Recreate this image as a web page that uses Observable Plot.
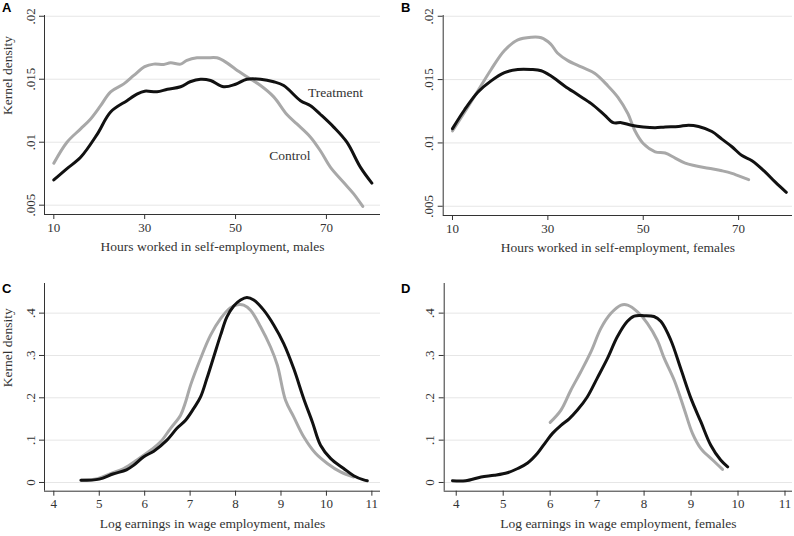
<!DOCTYPE html>
<html>
<head>
<meta charset="utf-8">
<script src="https://cdn.jsdelivr.net/npm/d3@7"></script>
<script src="https://cdn.jsdelivr.net/npm/@observablehq/plot@0.6"></script>
<style>
  html, body { margin: 0; padding: 0; background: #fff; }
  #grid { position: relative; width: 794px; height: 536px; }
  .panel { position: absolute; }
  .panel svg { display: block; }
  .letter { position: absolute; font: bold 13px "Liberation Sans", Arial, sans-serif; color: #000; }
</style>
</head>
<body>
<div id="grid"></div>
<script>
// ---- Panel A: hours, males ----
const aTreatHours = [10, 12.9, 15.9, 19.5, 22.5, 26.1, 28.4, 30, 32.7, 35, 37.9, 40, 42.3, 44.5, 47.4, 50, 52.5, 55.5, 58.4, 60.6, 64.3, 66.5, 68.7, 71.6, 74.5, 77.5, 80];
const aTreatDens  = [0.0070, 0.0079, 0.0088, 0.0106, 0.0124, 0.0133, 0.01384, 0.01405, 0.0140, 0.0142, 0.0144, 0.0148, 0.0150, 0.0149, 0.0144, 0.0146, 0.0150, 0.0150, 0.0148, 0.0145, 0.0133, 0.0129, 0.0122, 0.0112, 0.0100, 0.0080, 0.00675];
const aCtrlHours  = [10, 12.9, 15.9, 18.1, 20.3, 22.5, 25.4, 27.6, 30, 32, 34.2, 35.7, 37.9, 39.3, 41.5, 43.7, 45.9, 48.1, 50, 52.5, 55.5, 58.4, 61.3, 63.5, 66.5, 68.7, 70.9, 73.8, 76, 78];
const aCtrlDens   = [0.00833, 0.0100, 0.01106, 0.01185, 0.0129, 0.0140, 0.01463, 0.0153, 0.0160, 0.0162, 0.01617, 0.0163, 0.0162, 0.0165, 0.0167, 0.0167, 0.0167, 0.0163, 0.0158, 0.0152, 0.0145, 0.0136, 0.0122, 0.01145, 0.0104, 0.0093, 0.0080, 0.0068, 0.0059, 0.0049];

// ---- Panel B: hours, females ----
const bTreatHours = [10, 12.5, 15.3, 18.1, 20.9, 23.7, 26.5, 28.6, 30.6, 33.5, 36.3, 39.1, 41.9, 43.7, 45.4, 47.5, 50, 52.5, 54.6, 57.4, 59.5, 61.6, 64.4, 66.5, 68.6, 70.7, 72.8, 75.6, 77.7, 80];
const bTreatDens  = [0.01113, 0.0126, 0.0140, 0.0149, 0.01555, 0.0158, 0.0158, 0.0157, 0.0153, 0.0145, 0.0138, 0.0131, 0.0122, 0.0116, 0.0116, 0.0114, 0.01126, 0.0112, 0.01126, 0.0113, 0.0114, 0.0113, 0.0109, 0.0103, 0.0097, 0.0090, 0.0086, 0.0077, 0.0069, 0.0061];
const bCtrlHours  = [10, 12.5, 15.3, 18.1, 20.9, 23.7, 26.5, 28.6, 30.6, 32, 34.2, 37, 39.8, 42.6, 44.7, 46.8, 48.2, 50, 52.5, 54.6, 56.7, 58.8, 60.9, 63.7, 66.5, 68.6, 71.4, 72.1];
const bCtrlDens   = [0.01095, 0.0124, 0.0141, 0.0158, 0.0173, 0.01813, 0.01834, 0.0183, 0.0178, 0.0171, 0.0165, 0.0160, 0.0155, 0.0145, 0.0136, 0.0123, 0.0110, 0.00995, 0.0093, 0.0092, 0.0088, 0.0084, 0.0082, 0.0080, 0.0078, 0.0076, 0.0072, 0.0071];

// ---- Panel C: log earnings, males ----
const cTreatEarn = [4.6, 5.0, 5.3, 5.6, 5.76, 5.98, 6.2, 6.49, 6.71, 6.9, 7.08, 7.23, 7.37, 7.52, 7.67, 7.81, 7.96, 8.11, 8.25, 8.4, 8.62, 8.84, 9.06, 9.28, 9.5, 9.69, 9.87, 10.09, 10.38, 10.6, 10.82, 10.9];
const cTreatDens = [0.005, 0.008, 0.02, 0.03, 0.041, 0.061, 0.074, 0.100, 0.128, 0.147, 0.175, 0.202, 0.246, 0.297, 0.348, 0.391, 0.417, 0.431, 0.437, 0.431, 0.407, 0.372, 0.328, 0.269, 0.198, 0.143, 0.088, 0.057, 0.033, 0.016, 0.006, 0.004];
const cCtrlEarn  = [4.59, 4.96, 5.25, 5.54, 5.83, 6.13, 6.35, 6.57, 6.79, 6.9, 7.01, 7.23, 7.45, 7.67, 7.89, 8.04, 8.18, 8.33, 8.55, 8.77, 8.92, 9.1, 9.28, 9.5, 9.76, 10.02, 10.31, 10.6];
const cCtrlDens  = [0.0055, 0.009, 0.021, 0.033, 0.053, 0.076, 0.096, 0.128, 0.159, 0.19, 0.230, 0.293, 0.348, 0.387, 0.413, 0.420, 0.419, 0.407, 0.368, 0.320, 0.277, 0.194, 0.155, 0.108, 0.069, 0.045, 0.025, 0.013];

// ---- Panel D: log earnings, females ----
const dTreatEarn = [3.92, 4.2, 4.53, 4.81, 5.09, 5.31, 5.52, 5.73, 5.91, 6.05, 6.23, 6.41, 6.58, 6.79, 7.0, 7.22, 7.43, 7.64, 7.79, 8.0, 8.21, 8.36, 8.57, 8.78, 9.0, 9.21, 9.42, 9.63, 9.78];
const dTreatDens = [0.004, 0.004, 0.013, 0.017, 0.023, 0.033, 0.046, 0.069, 0.096, 0.116, 0.135, 0.151, 0.171, 0.202, 0.246, 0.293, 0.344, 0.380, 0.393, 0.394, 0.392, 0.380, 0.336, 0.269, 0.198, 0.143, 0.088, 0.053, 0.037];
const dCtrlEarn  = [6.0, 6.23, 6.44, 6.65, 6.87, 7.08, 7.29, 7.51, 7.65, 7.86, 8.07, 8.28, 8.43, 8.64, 8.85, 9.03, 9.21, 9.46, 9.67];
const dCtrlDens  = [0.142, 0.171, 0.218, 0.261, 0.309, 0.364, 0.399, 0.419, 0.419, 0.403, 0.376, 0.336, 0.293, 0.242, 0.175, 0.116, 0.080, 0.053, 0.031];

// ---- ticks & labels ----
const hoursTicks = [10, 30, 50, 70];
const hoursDensTicks = [0.005, 0.01, 0.015, 0.02];
const earnTicks = [4, 5, 6, 7, 8, 9, 10, 11];
const earnDensTicks = [0, 0.1, 0.2, 0.3, 0.4];
const panelLetters = ["A", "B", "C", "D"];
const xTitles = [
  "Hours worked in self-employment, males",
  "Hours worked in self-employment, females",
  "Log earnings in wage employment, males",
  "Log earnings in wage employment, females"
];
const yTitle = "Kernel density";
const seriesNames = ["Treatment", "Control"];
const annotation = [
  {x: 72.0, y: 0.01392, text: "Treatment"},
  {x: 61.97, y: 0.00892, text: "Control"}
];

const toRows = (xs, ys, s) => xs.map((x, i) => ({x, y: ys[i], s}));
const fmt = d => String(d).replace(/^0\./, ".");
const serif = "'Liberation Serif', 'DejaVu Serif', serif";

const panels = [
  {left: 0, top: 0, W: 397, H: 268, mL: 44, mR: 17, mT: 15, mB: 54,
   xd: [7.95, 81.9], yd: [0.00426, 0.02006], xt: hoursTicks, yt: hoursDensTicks,
   data: [toRows(aTreatHours, aTreatDens, seriesNames[0]), toRows(aCtrlHours, aCtrlDens, seriesNames[1])],
   yTitle: true, notes: annotation, tOff: 36},
  {left: 397, top: 0, W: 397, H: 268, mL: 45.7, mR: 2, mT: 15, mB: 53,
   xd: [8.05, 81.3], yd: [0.00427, 0.02006], xt: hoursTicks, yt: hoursDensTicks,
   data: [toRows(bTreatHours, bTreatDens, seriesNames[0]), toRows(bCtrlHours, bCtrlDens, seriesNames[1])],
   yTitle: false, notes: [], tOff: 36},
  {left: 0, top: 268, W: 397, H: 268, mL: 44, mR: 17, mT: 15, mB: 45.3,
   xd: [3.795, 11.19], yd: [-0.0206, 0.470], xt: earnTicks, yt: earnDensTicks,
   data: [toRows(cTreatEarn, cTreatDens, seriesNames[0]), toRows(cCtrlEarn, cCtrlDens, seriesNames[1])],
   yTitle: true, notes: [], tOff: 36.6},
  {left: 397, top: 268, W: 397, H: 268, mL: 46.7, mR: 2, mT: 15, mB: 45.3,
   xd: [3.744, 11.16], yd: [-0.0206, 0.470], xt: earnTicks, yt: earnDensTicks,
   data: [toRows(dTreatEarn, dTreatDens, seriesNames[0]), toRows(dCtrlEarn, dCtrlDens, seriesNames[1])],
   yTitle: false, notes: [], tOff: 36.6}
];

const grid = document.getElementById("grid");
panels.forEach((p, i) => {
  const marks = [
    Plot.gridY(p.yt, {stroke: "#e6e6e6", strokeOpacity: 1, strokeWidth: 1}),
    Plot.ruleX([p.xd[0]], {stroke: "#333", strokeWidth: 1}),
    Plot.ruleY([p.yd[0]], {stroke: "#333", strokeWidth: 1}),
    Plot.axisX({ticks: p.xt, tickSize: 5, tickPadding: 3, tickFormat: d => String(d), label: null, stroke: "#333", color: "#333", fontSize: 13}),
    Plot.axisY({ticks: p.yt, tickSize: 5, tickPadding: 5, tickRotate: -90, tickFormat: fmt, label: null, stroke: "#333", color: "#333", fontSize: 13}),
    Plot.line(p.data[1], {x: "x", y: "y", stroke: "#a8a8a8", strokeWidth: 3, curve: "catmull-rom"}),
    Plot.line(p.data[0], {x: "x", y: "y", stroke: "#111", strokeWidth: 3, curve: "catmull-rom"}),
    Plot.text([xTitles[i]], {frameAnchor: "bottom", dy: p.tOff, fontSize: 13.5, fill: "#333"}),
    Plot.text(p.notes, {x: "x", y: "y", text: "text", fontSize: 13.5, fill: "#333"})
  ];
  if (p.yTitle) {
    marks.push(Plot.text([yTitle], {frameAnchor: "left", dx: -37, rotate: -90, fontSize: 13.5, fill: "#333"}));
  }
  const chart = Plot.plot({
    width: p.W, height: p.H,
    marginLeft: p.mL, marginRight: p.mR, marginTop: p.mT, marginBottom: p.mB,
    x: {domain: p.xd},
    y: {domain: p.yd},
    style: {fontFamily: serif, background: "transparent", overflow: "visible"},
    marks
  });
  const div = document.createElement("div");
  div.className = "panel";
  div.style.left = p.left + "px";
  div.style.top = p.top + "px";
  div.appendChild(chart);
  const lab = document.createElement("div");
  lab.className = "letter";
  lab.textContent = panelLetters[i];
  lab.style.left = (i % 2 === 0 ? 2 : 4) + "px";
  lab.style.top = (i < 2 ? 0 : 13) + "px";
  div.appendChild(lab);
  grid.appendChild(div);
});
</script>
</body>
</html>
